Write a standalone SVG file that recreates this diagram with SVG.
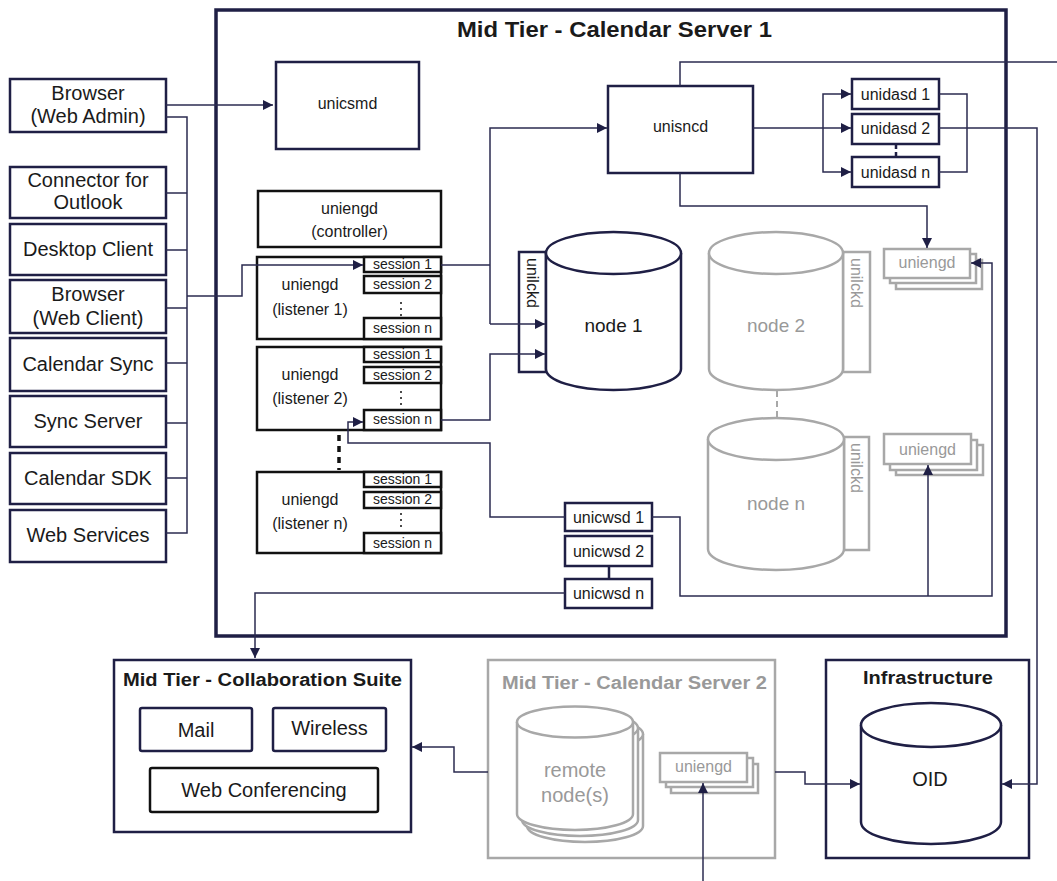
<svg xmlns="http://www.w3.org/2000/svg" width="1057" height="881" viewBox="0 0 1057 881">
<style>
text{font-family:"Liberation Sans",Arial,sans-serif;fill:#1a1a1a}
.c{text-anchor:middle}
.t20{font-size:20px}
.t16{font-size:16px}
.t14{font-size:14px}
.b{font-weight:bold}
.nv{fill:#fff;stroke:#1f1f45;stroke-width:2.5}
.bk{fill:#fff;stroke:#111;stroke-width:2.5}
.gr{fill:#fff;stroke:#a8a8a8;stroke-width:2.5}
.gt{fill:#999}
.ln{fill:none;stroke:#2b2b50;stroke-width:1.5}
</style>
<defs>
<marker id="ah" markerUnits="userSpaceOnUse" markerWidth="10" markerHeight="10" refX="10" refY="5" orient="auto">
<path d="M0,0 L10,5 L0,10 z" fill="#1f1f45"/>
</marker>
</defs>

<g id="server1">
<rect x="216" y="10" width="790" height="626" fill="#fff" stroke="#1f1f45" stroke-width="3.5"/>
<text x="614.5" y="37" class="c b" font-size="22" textLength="315" lengthAdjust="spacingAndGlyphs">Mid Tier - Calendar Server 1</text>
</g>

<g id="clients">
<g id="browser-admin"><rect x="10" y="79" width="156" height="53" class="nv"/><text x="88" y="100" class="c t20">Browser</text><text x="88" y="123" class="c t20">(Web Admin)</text></g>
<g id="outlook"><rect x="10" y="167" width="156" height="51" class="nv"/><text x="88" y="187" class="c t20">Connector for</text><text x="88" y="209" class="c t20">Outlook</text></g>
<g id="desktop"><rect x="10" y="224" width="156" height="51" class="nv"/><text x="88" y="256" class="c t20">Desktop Client</text></g>
<g id="browser-client"><rect x="10" y="280" width="156" height="53" class="nv"/><text x="88" y="301" class="c t20">Browser</text><text x="88" y="325" class="c t20">(Web Client)</text></g>
<g id="calsync"><rect x="10" y="338" width="156" height="53" class="nv"/><text x="88" y="371" class="c t20">Calendar Sync</text></g>
<g id="syncserver"><rect x="10" y="396" width="156" height="51" class="nv"/><text x="88" y="428" class="c t20">Sync Server</text></g>
<g id="calsdk"><rect x="10" y="453" width="156" height="51" class="nv"/><text x="88" y="485" class="c t20">Calendar SDK</text></g>
<g id="websvc"><rect x="10" y="510" width="156" height="52" class="nv"/><text x="88" y="542" class="c t20">Web Services</text></g>
</g>

<g id="unicsmd"><rect x="276" y="62" width="143" height="87" class="nv"/><text x="347.5" y="109" class="c t16">unicsmd</text></g>
<g id="controller"><rect x="258" y="191" width="183" height="56" class="bk"/><text x="349.5" y="214" class="c t16">uniengd</text><text x="349.5" y="237" class="c t16">(controller)</text></g>

<g id="listener1">
<rect x="257" y="257" width="184" height="82" class="bk"/>
<rect x="364" y="257" width="77" height="15" class="bk" stroke-width="2"/>
<rect x="364" y="276" width="77" height="17" class="bk" stroke-width="2"/>
<rect x="364" y="318" width="77" height="21" class="bk" stroke-width="2"/>
<line x1="401" y1="302" x2="401" y2="316" stroke="#111" stroke-width="1.5" stroke-dasharray="2,4"/>
<text x="310" y="290" class="c t16">uniengd</text><text x="310" y="315" class="c t16">(listener 1)</text>
<text x="402.5" y="269" class="c t14">session 1</text><text x="402.5" y="289" class="c t14">session 2</text><text x="402.5" y="333" class="c t14">session n</text>
</g>
<g id="listener2">
<rect x="257" y="347" width="184" height="83" class="bk"/>
<rect x="364" y="347" width="77" height="15" class="bk" stroke-width="2"/>
<rect x="364" y="367" width="77" height="16" class="bk" stroke-width="2"/>
<rect x="364" y="410" width="77" height="20" class="bk" stroke-width="2"/>
<line x1="401" y1="391" x2="401" y2="406" stroke="#111" stroke-width="1.5" stroke-dasharray="2,4"/>
<text x="310" y="380" class="c t16">uniengd</text><text x="310" y="404" class="c t16">(listener 2)</text>
<text x="402.5" y="359" class="c t14">session 1</text><text x="402.5" y="380" class="c t14">session 2</text><text x="402.5" y="424" class="c t14">session n</text>
</g>
<line x1="339" y1="435" x2="339" y2="470" stroke="#111" stroke-width="3.5" stroke-dasharray="6,5"/>
<g id="listenern">
<rect x="257" y="472" width="184" height="81" class="bk"/>
<rect x="364" y="472" width="77" height="15" class="bk" stroke-width="2"/>
<rect x="364" y="492" width="77" height="16" class="bk" stroke-width="2"/>
<rect x="364" y="533" width="77" height="20" class="bk" stroke-width="2"/>
<line x1="401" y1="513" x2="401" y2="528" stroke="#111" stroke-width="1.5" stroke-dasharray="2,4"/>
<text x="310" y="505" class="c t16">uniengd</text><text x="310" y="529" class="c t16">(listener n)</text>
<text x="402.5" y="484" class="c t14">session 1</text><text x="402.5" y="504" class="c t14">session 2</text><text x="402.5" y="548" class="c t14">session n</text>
</g>

<g id="unisncd"><rect x="608" y="86" width="145" height="87" class="nv"/><text x="680.5" y="132" class="c t16">unisncd</text></g>
<g id="unidasd">
<rect x="852" y="79" width="87" height="30" class="nv"/><text x="895.5" y="100" class="c t16">unidasd 1</text>
<rect x="852" y="114" width="87" height="30" class="nv"/><text x="895.5" y="134" class="c t16">unidasd 2</text>
<line x1="896" y1="144" x2="896" y2="157" stroke="#1f1f45" stroke-width="2.5" stroke-dasharray="5,3"/>
<rect x="852" y="157" width="87" height="30" class="nv"/><text x="895.5" y="178" class="c t16">unidasd n</text>
</g>

<g id="node1">
<rect x="519" y="252" width="27" height="120" class="nv"/>
<text transform="translate(527,258) rotate(90)" class="t16">unilckd</text>
<path d="M546,253 L546,369 A67.5,21 0 0 0 681,369 L681,253" class="nv"/>
<ellipse cx="613.5" cy="253" rx="67.5" ry="21" class="nv"/>
<text x="613.5" y="332" font-size="19" class="c">node 1</text>
</g>
<g id="node2">
<rect x="843" y="252" width="27" height="120" class="gr"/>
<text transform="translate(851,258) rotate(90)" class="t16 gt">unilckd</text>
<path d="M709,253 L709,369 A67,21 0 0 0 843,369 L843,253" class="gr"/>
<ellipse cx="776" cy="253" rx="67" ry="21" class="gr"/>
<text x="776" y="332" font-size="19" class="c gt">node 2</text>
</g>
<line x1="777" y1="391" x2="777" y2="434" stroke="#a8a8a8" stroke-width="2" stroke-dasharray="6,4"/>
<g id="noden">
<rect x="844" y="437" width="25" height="113" class="gr"/>
<text transform="translate(851,443) rotate(90)" class="t16 gt">unilckd</text>
<path d="M708,439 L708,549 A68,21 0 0 0 844,549 L844,439" class="gr"/>
<ellipse cx="776" cy="439" rx="68" ry="21" class="gr"/>
<text x="776" y="510" font-size="19" class="c gt">node n</text>
</g>

<g id="uniengd-stack1">
<rect x="896" y="260" width="86" height="29" class="gr"/>
<rect x="890" y="254" width="86" height="29" class="gr"/>
<rect x="884" y="249" width="86" height="29" class="gr"/>
<text x="927" y="268" class="c t16 gt">uniengd</text>
</g>
<g id="uniengd-stack2">
<rect x="896" y="445" width="87" height="30" class="gr"/>
<rect x="890" y="440" width="87" height="30" class="gr"/>
<rect x="884" y="434" width="87" height="30" class="gr"/>
<text x="927.5" y="455" class="c t16 gt">uniengd</text>
</g>

<g id="unicwsd">
<rect x="565" y="503" width="87" height="28" class="nv"/><text x="608.5" y="523" class="c t16">unicwsd 1</text>
<rect x="565" y="536" width="87" height="30" class="nv"/><text x="608.5" y="557" class="c t16">unicwsd 2</text>
<line x1="609" y1="566" x2="609" y2="579" stroke="#1f1f45" stroke-width="2.5"/>
<rect x="565" y="579" width="87" height="29" class="nv"/><text x="608.5" y="599" class="c t16">unicwsd n</text>
</g>

<g id="collab">
<rect x="114" y="660" width="297" height="172" class="nv"/>
<text x="262.5" y="686" font-size="18" class="c b" textLength="279" lengthAdjust="spacingAndGlyphs">Mid Tier - Collaboration Suite</text>
<rect x="140" y="708" width="112" height="43" rx="2" class="nv"/><text x="196" y="737" class="c t20">Mail</text>
<rect x="273" y="708" width="113" height="43" rx="2" class="nv"/><text x="329.5" y="735" class="c t20">Wireless</text>
<rect x="150" y="768" width="228" height="44" rx="2" class="bk"/><text x="264" y="797" class="c t20">Web Conferencing</text>
</g>

<g id="server2">
<rect x="488" y="660" width="287" height="198" class="gr"/>
<text x="634.5" y="689" font-size="18" class="c b gt" textLength="265" lengthAdjust="spacingAndGlyphs">Mid Tier - Calendar Server 2</text>
<path d="M527,734 L527,826 A58,16 0 0 0 643,826 L643,734" class="gr"/>
<ellipse cx="585" cy="734" rx="58" ry="16" class="gr"/>
<path d="M522,728 L522,820 A58,16 0 0 0 638,820 L638,728" class="gr"/>
<ellipse cx="580" cy="728" rx="58" ry="16" class="gr"/>
<path d="M517,722 L517,814 A58,16 0 0 0 633,814 L633,722" class="gr"/>
<ellipse cx="575" cy="722" rx="58" ry="15.5" class="gr"/>
<text x="575" y="777" class="c t20 gt">remote</text>
<text x="575" y="802" class="c t20 gt">node(s)</text>
<rect x="671" y="764" width="87" height="29" class="gr"/>
<rect x="666" y="758" width="87" height="29" class="gr"/>
<rect x="660" y="753" width="87" height="29" class="gr"/>
<text x="703.5" y="772" class="c t16 gt">uniengd</text>
</g>

<g id="infrastructure">
<rect x="826" y="660" width="203" height="198" class="nv"/>
<text x="928" y="684" font-size="18" class="c b" textLength="130" lengthAdjust="spacingAndGlyphs">Infrastructure</text>
<path d="M861,725 L861,822 A70,22 0 0 0 1001,822 L1001,725" class="nv"/>
<ellipse cx="931" cy="725" rx="70" ry="22" class="nv"/>
<text x="930" y="786" class="c t20">OID</text>
</g>

<g id="connectors">
<path d="M166,105 H273" class="ln" marker-end="url(#ah)"/>
<path d="M166,117 H187 V533 H166 M166,193 H187 M166,250 H187 M166,308 H187 M166,363 H187 M166,423 H187 M166,478 H187" class="ln"/>
<path d="M187,296 H242 V265 H363" class="ln" marker-end="url(#ah)"/>
<path d="M441,265 H490" class="ln"/>
<path d="M490,324 V128 H607" class="ln" marker-end="url(#ah)"/>
<path d="M490,324 H545" class="ln" marker-end="url(#ah)"/>
<path d="M441,420 H490 V354 H545" class="ln" marker-end="url(#ah)"/>
<path d="M753,128 H851" class="ln" marker-end="url(#ah)"/>
<path d="M823,128 V94 H851" class="ln" marker-end="url(#ah)"/>
<path d="M823,128 V172 H851" class="ln" marker-end="url(#ah)"/>
<path d="M939,94 H967 V172 H939" class="ln"/>
<path d="M939,128 H1037 V784 H1002" class="ln" marker-end="url(#ah)"/>
<path d="M680,86 V62 H1057" class="ln"/>
<path d="M680,173 V206 H927 V248" class="ln" marker-end="url(#ah)"/>
<path d="M652,517 H680 V596 H992 V263 H971" class="ln" marker-end="url(#ah)"/>
<path d="M928,596 V465" class="ln" marker-end="url(#ah)"/>
<path d="M565,517 H490 V443 H348 V422 H363" class="ln" marker-end="url(#ah)"/>
<path d="M565,593 H255 V658" class="ln" marker-end="url(#ah)"/>
<path d="M488,772 H454 V747 H412" class="ln" marker-end="url(#ah)"/>
<path d="M775,772 H805 V784 H860" class="ln" marker-end="url(#ah)"/>
<path d="M703,881 V783" class="ln" marker-end="url(#ah)"/>
</g>
</svg>
